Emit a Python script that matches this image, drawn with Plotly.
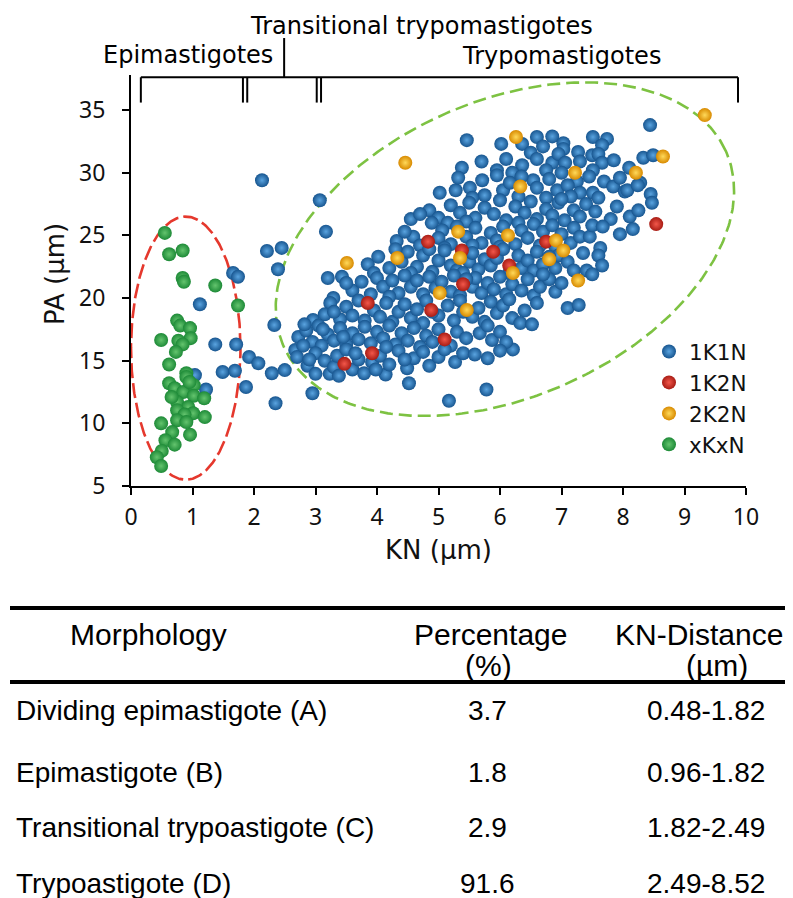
import numpy as np
import plotly.graph_objects as go

# ---------------- data (KN, PA in µm) ----------------
xkxn_points = [
    (0.55, 25.2), (0.62, 23.5), (0.84, 23.8), (0.84, 21.6), (0.86, 21.3), (1.37, 21.0),
    (1.74, 19.4), (0.75, 18.2), (0.80, 17.8), (0.96, 17.6), (0.97, 16.8), (0.49, 16.65),
    (0.77, 16.6), (0.84, 16.3), (0.73, 15.7), (0.62, 14.7), (0.90, 14.0), (0.90, 13.7),
    (0.62, 13.2), (0.71, 12.8), (0.85, 12.5), (1.02, 13.05), (1.02, 12.2), (1.19, 12.0),
    (0.75, 11.7), (0.93, 11.3), (0.75, 11.05), (1.01, 10.8), (1.20, 10.5), (0.87, 10.7),
    (0.75, 10.25), (0.90, 10.1), (0.49, 10.0), (0.67, 9.3), (0.96, 9.1), (0.56, 8.65),
    (0.71, 8.3), (0.50, 7.8), (0.42, 7.3), (0.49, 6.6), (0.66, 12.1), (0.95, 13.3),
]

k2n2_points = [
    (6.33, 28.9), (5.32, 25.3), (6.13, 25.0), (6.91, 24.6), (7.03, 23.8), (6.80, 23.1),
    (5.35, 23.2), (4.33, 23.2), (6.21, 22.0), (7.27, 21.4), (5.02, 20.4), (5.46, 19.05),
    (3.51, 22.8), (6.26, 32.85), (4.46, 30.8), (9.33, 34.6), (8.65, 31.3), (7.22, 30.0),
    (8.21, 30.0),
]

k1n2_points = [
    (3.47, 14.75), (3.92, 15.6), (3.85, 19.6), (4.88, 19.05), (5.10, 16.7), (5.40, 21.1),
    (4.83, 24.5), (5.38, 23.8), (5.89, 23.7), (6.15, 22.6), (6.75, 24.5), (8.54, 25.9),
]

k1n1_left = [
    (1.04, 13.85), (1.22, 12.7), (1.12, 19.5), (1.37, 16.3), (1.71, 16.3), (1.66, 22.0),
    (1.74, 21.7), (1.49, 14.1), (1.69, 14.2), (1.92, 15.3), (2.07, 14.8), (1.87, 12.9),
    (2.35, 11.6), (2.29, 14.0), (2.50, 14.25), (2.33, 17.85), (2.13, 29.4), (2.21, 23.75),
    (2.45, 24.0), (2.39, 22.3), (3.07, 27.8), (3.17, 25.3), (2.95, 12.4), (4.52, 13.2),
    (5.17, 11.8), (5.78, 12.7),
]

k1n1_top = [
    (5.46, 32.6), (6.02, 32.3), (6.36, 32.3), (6.60, 32.85), (6.85, 32.9), (6.70, 32.1),
    (7.03, 32.35), (7.03, 31.9), (7.51, 32.85), (7.74, 32.7), (7.66, 32.2), (8.44, 33.8),
    (5.38, 30.4), (5.70, 30.9), (5.95, 30.2), (6.10, 31.1), (6.36, 30.6), (6.50, 31.6),
    (6.60, 31.1), (6.85, 30.8), (6.95, 31.5), (7.06, 30.8), (7.27, 31.65), (7.30, 30.9),
    (7.50, 31.4), (7.60, 31.5), (7.66, 30.8), (7.51, 30.2), (7.85, 31.0), (8.33, 31.2),
    (8.49, 31.4), (8.10, 30.4), (6.20, 30.0), (6.75, 30.2),
]

k1n1_upper = [
    (5.02, 28.4), (5.28, 28.6), (5.51, 28.8), (5.71, 29.4), (5.75, 28.2), (6.05, 28.6),
    (6.16, 29.2), (6.54, 29.4), (6.60, 28.8), (6.93, 28.6), (7.00, 30.0), (7.25, 29.3),
    (7.30, 28.4), (7.51, 28.4), (7.69, 29.3), (7.84, 28.9), (8.03, 28.5), (8.28, 29.2),
    (5.32, 29.6), (5.95, 29.8), (6.35, 29.7), (6.80, 29.5), (7.10, 29.0), (7.45, 29.7),
    (7.95, 29.6), (8.07, 28.6), (8.24, 29.0), (5.55, 28.0), (6.30, 28.1), (6.75, 28.0),
    (7.15, 28.1), (7.60, 28.0), (8.45, 28.3),
    (4.55, 26.3), (4.85, 27.0), (5.00, 26.4), (5.20, 27.4), (5.35, 26.8), (5.50, 27.6),
    (5.60, 26.4), (5.75, 27.2), (5.90, 26.7), (6.00, 27.8), (6.10, 26.2), (6.25, 27.3),
    (6.40, 26.8), (6.50, 27.7), (6.60, 26.3), (6.75, 27.1), (6.85, 26.6), (6.95, 27.6),
    (7.05, 26.2), (7.20, 27.0), (7.30, 26.5), (7.40, 27.5), (7.55, 26.9), (8.47, 27.6),
    (8.11, 26.5), (7.80, 26.3), (7.90, 27.3), (8.25, 27.0), (5.45, 26.1), (6.30, 26.0),
    (7.00, 27.9), (5.15, 26.0), (4.70, 26.7), (4.89, 26.0),
]

k1n1_middle = [
    (4.32, 24.55), (4.59, 24.9), (5.06, 25.4), (4.70, 24.2), (5.00, 24.8), (5.20, 24.3),
    (5.45, 24.9), (5.60, 25.6), (5.70, 24.4), (5.85, 25.2), (5.95, 24.6), (6.05, 25.7),
    (6.25, 24.3), (6.35, 25.4), (6.45, 24.8), (6.55, 25.9), (6.65, 24.2), (6.70, 25.3),
    (6.85, 25.8), (7.00, 25.1), (7.15, 24.4), (7.20, 25.6), (7.30, 24.9), (7.46, 24.9),
    (7.50, 25.8), (7.67, 25.7), (7.63, 24.0), (7.95, 25.1), (8.16, 25.5), (5.30, 25.7),
    (4.45, 25.3), (6.00, 24.1), (5.55, 24.2), (6.90, 24.1), (5.10, 24.0),
    (3.85, 22.7), (4.02, 23.3), (4.20, 22.4), (4.40, 22.9), (4.50, 23.7), (4.65, 22.5),
    (4.75, 23.4), (4.90, 22.1), (5.00, 23.0), (5.10, 23.8), (5.20, 22.6), (5.30, 22.2),
    (5.50, 22.9), (5.55, 23.6), (5.65, 22.3), (5.75, 23.1), (5.85, 22.6), (5.95, 23.2),
    (6.05, 23.9), (6.30, 23.4), (6.35, 22.4), (6.45, 23.0), (6.55, 22.2), (6.60, 23.7),
    (6.70, 22.7), (6.90, 22.4), (6.95, 23.4), (7.10, 22.9), (7.20, 22.2), (7.41, 22.2),
    (7.60, 23.4), (7.66, 22.6), (7.35, 23.6), (4.30, 23.9), (4.85, 23.9), (5.40, 22.0),
    (6.15, 22.0), (6.80, 23.3), (4.55, 22.0), (3.95, 22.0),
]

k1n1_lower = [
    (3.20, 21.6), (3.43, 21.7), (3.60, 20.6), (3.75, 21.3), (3.90, 20.3), (4.00, 21.6),
    (4.10, 20.9), (4.25, 21.4), (4.35, 20.4), (4.45, 21.8), (4.55, 20.9), (4.65, 21.4),
    (4.75, 20.3), (4.85, 21.7), (4.95, 20.8), (5.05, 21.3), (5.20, 20.5), (5.25, 21.8),
    (5.35, 20.2), (5.55, 20.9), (5.60, 21.6), (5.70, 20.4), (5.80, 21.2), (5.90, 20.7),
    (6.00, 21.7), (6.10, 20.3), (6.20, 21.1), (6.35, 20.6), (6.45, 21.5), (6.55, 20.2),
    (6.65, 20.9), (6.80, 21.5), (6.90, 20.5), (7.00, 21.2), (3.29, 20.0), (3.50, 21.2),
    (4.20, 20.1), (5.45, 21.5), (6.70, 21.9), (7.50, 21.9),
    (2.96, 18.25), (3.24, 19.6), (3.15, 18.7), (3.40, 18.3), (3.50, 19.3), (3.60, 18.6),
    (3.70, 19.8), (3.80, 18.2), (3.95, 19.0), (4.05, 18.5), (4.15, 19.6), (4.25, 18.1),
    (4.35, 18.9), (4.45, 19.5), (4.55, 18.4), (4.65, 19.1), (4.75, 18.0), (4.80, 19.8),
    (5.00, 18.6), (5.15, 19.4), (5.25, 18.2), (5.35, 19.8), (5.55, 18.5), (5.65, 19.2),
    (5.75, 18.1), (5.85, 19.7), (5.95, 18.8), (6.05, 19.4), (6.20, 18.4), (6.33, 18.0),
    (6.52, 17.9), (6.40, 19.0), (6.60, 19.6), (7.10, 19.2), (7.28, 19.45), (3.30, 18.9),
    (4.90, 18.9), (5.40, 18.9), (6.15, 19.9),
]

k1n1_bottom = [
    (2.72, 16.9), (2.67, 15.85), (2.85, 17.4), (2.95, 16.5), (3.05, 17.8), (3.10, 16.2),
    (3.20, 17.1), (3.30, 16.6), (3.40, 17.6), (3.50, 16.3), (3.60, 17.2), (3.70, 16.7),
    (3.80, 17.7), (3.90, 16.4), (4.00, 17.3), (4.10, 16.8), (4.20, 17.8), (4.30, 16.3),
    (4.40, 17.2), (4.50, 16.6), (4.60, 17.6), (4.70, 16.1), (4.80, 17.0), (4.90, 16.5),
    (5.00, 17.5), (5.20, 16.2), (5.30, 17.3), (5.45, 16.8), (5.67, 17.2), (5.87, 16.65),
    (6.21, 15.9), (5.80, 17.8), (6.00, 17.3), (6.10, 16.5),
    (2.70, 15.3), (2.87, 14.6), (3.00, 13.95), (3.00, 15.6), (3.15, 15.0), (3.23, 13.95),
    (3.30, 14.5), (3.35, 15.4), (3.50, 15.9), (3.60, 14.3), (3.70, 15.1), (3.79, 14.0),
    (3.92, 14.9), (4.05, 15.4), (4.14, 13.9), (4.20, 14.7), (4.35, 15.8), (4.49, 14.4),
    (4.60, 15.2), (4.75, 15.7), (4.85, 14.6), (5.00, 15.3), (5.10, 15.9), (5.27, 14.9),
    (5.40, 15.6), (5.59, 15.5), (5.80, 15.2), (6.00, 15.8),
    (2.80, 16.2), (3.12, 17.5), (2.90, 15.1), (3.45, 16.9), (3.65, 15.6), (4.15, 16.1),
    (4.45, 15.1), (3.98, 14.3), (3.38, 13.8), (2.82, 17.9),
]

k1n1_points = k1n1_left + k1n1_top + k1n1_upper + k1n1_middle + k1n1_lower + k1n1_bottom

# region brackets (KN positions) and labels
bracket_ticks = [0.16, 1.82, 1.89, 3.02, 3.09, 9.87]
transition_tick = 2.49
bracket_labels = ["Epimastigotes", "Transitional trypomastigotes", "Trypomastigotes"]
bracket_label_x = [0.92, 4.72, 7.0]

# ellipses (centre, axis vectors in data units)
red_ellipse = dict(cx=0.89, cy=16.0, ux=0.89, uy=0.0, vx=0.0, vy=10.5)
green_ellipse = dict(cx=6.08, cy=23.9, ux=3.59, uy=7.85, vx=-1.0, vy=10.75)

# table
header_line1 = ["Morphology", "Percentage", "KN-Distance"]
header_line2 = ["", "(%)", "(µm)"]
morphology = ["Dividing epimastigote (A)", "Epimastigote (B)",
              "Transitional trypoastigote (C)", "Trypoastigote (D)"]
percentage = ["3.7", "1.8", "2.9", "91.6"]
kn_distance = ["0.48-1.82", "0.96-1.82", "1.82-2.49", "2.49-8.52"]

# ---------------- layout geometry ----------------
OFF = 8                      # page body margin
W, H = 793 - OFF, 898 - OFF
L, T, PW, PH = 131 - OFF, 75 - OFF, 615, 411
Y0, Y1 = 5, 37.8


def px_x(px):
    return (px - OFF - L) / PW


def px_y(py):
    return (T + PH - (py - OFF)) / PH


def dy_paper(v):
    return (v - Y0) / (Y1 - Y0)


def ellipse_xy(e):
    t = np.linspace(0, 2 * np.pi, 400)
    x = e["cx"] + e["ux"] * np.cos(t) + e["vx"] * np.sin(t)
    y = e["cy"] + e["uy"] * np.cos(t) + e["vy"] * np.sin(t)
    return x, y


fig = go.Figure()

ex, ey = ellipse_xy(red_ellipse)
fig.add_trace(go.Scatter(x=ex, y=ey, mode="lines", showlegend=False, hoverinfo="skip",
                         line=dict(color="#e5382d", width=2.6, dash="15px,5px")))
ex, ey = ellipse_xy(green_ellipse)
fig.add_trace(go.Scatter(x=ex, y=ey, mode="lines", showlegend=False, hoverinfo="skip",
                         line=dict(color="#7dc242", width=2.6, dash="13px,6px")))

series = [
    ("1K1N", k1n1_points, "#17558f", "#5aa4e0"),
    ("1K2N", k1n2_points, "#a81c14", "#f2574a"),
    ("2K2N", k2n2_points, "#d88a00", "#ffd95a"),
    ("xKxN", xkxn_points, "#1d8a37", "#64c46e"),
]
for name, pts, edge, centre in series:
    fig.add_trace(go.Scatter(
        x=[p[0] for p in pts], y=[p[1] for p in pts], mode="markers", name=name,
        marker=dict(size=14, color=edge, line=dict(width=0),
                    gradient=dict(type="radial", color=centre)),
    ))

axis_common = dict(showline=True, linecolor="black", linewidth=2, ticks="outside",
                   ticklen=7, tickwidth=2, tickcolor="black", showgrid=False,
                   zeroline=False, tickfont=dict(family="Noto Sans", size=23, color="#111"))

fig.update_xaxes(range=[0, 10], dtick=1, ticklabelstandoff=2, **axis_common)
fig.update_yaxes(range=[Y0, Y1], tickvals=[5, 10, 15, 20, 25, 30, 35],
                 ticklabelstandoff=12, **axis_common)

shapes = []
line_style = dict(color="black", width=2)
yb = dy_paper(37.62)
shapes.append(dict(type="line", xref="x", yref="paper", x0=bracket_ticks[0], x1=bracket_ticks[-1],
                   y0=yb, y1=yb, line=line_style))
for xt in bracket_ticks:
    shapes.append(dict(type="line", xref="x", yref="paper", x0=xt, x1=xt,
                       y0=yb, y1=dy_paper(35.6), line=line_style))
shapes.append(dict(type="line", xref="x", yref="paper", x0=transition_tick, x1=transition_tick,
                   y0=yb, y1=dy_paper(40.75), line=line_style))
for py in (608, 682):
    shapes.append(dict(type="line", xref="paper", yref="paper", x0=px_x(10), x1=px_x(800),
                       y0=px_y(py), y1=px_y(py), line=dict(color="black", width=4)))

annotations = []
label_font = dict(family="DejaVu Sans", size=24, color="black")
for text, lx, ly in zip(bracket_labels, bracket_label_x, (55, 26, 56)):
    annotations.append(dict(text=text, x=lx, xref="x", y=px_y(ly), yref="paper",
                            showarrow=False, font=label_font, xanchor="center", yanchor="middle"))

title_font = dict(family="DejaVu Sans", size=26, color="#111")
annotations.append(dict(text="KN (µm)", x=5, xref="x", y=px_y(550), yref="paper",
                        showarrow=False, font=title_font, xanchor="center", yanchor="middle"))
annotations.append(dict(text="PA (µm)", x=px_x(55), xref="paper", y=px_y(274), yref="paper",
                        showarrow=False, font=title_font, textangle=-90,
                        xanchor="center", yanchor="middle"))

head_font = dict(family="Liberation Sans", size=30, color="black")
row_font = dict(family="Liberation Sans", size=28, color="black")
head_x = [148, 490, 699]
head2_x = [148, 488, 717]
for t1, t2, hx, hx2 in zip(header_line1, header_line2, head_x, head2_x):
    annotations.append(dict(text=t1, x=px_x(hx), y=px_y(634), xref="paper", yref="paper",
                            showarrow=False, font=head_font, xanchor="center", yanchor="middle"))
    if t2:
        annotations.append(dict(text=t2, x=px_x(hx2), y=px_y(665), xref="paper", yref="paper",
                                showarrow=False, font=head_font, xanchor="center",
                                yanchor="middle"))
row_y = [710, 772, 827, 883]
for m, p, k, ry in zip(morphology, percentage, kn_distance, row_y):
    annotations.append(dict(text=m, x=px_x(14), y=px_y(ry), xref="paper", yref="paper",
                            showarrow=False, font=row_font, xanchor="left", yanchor="middle"))
    annotations.append(dict(text=p, x=px_x(487), y=px_y(ry), xref="paper", yref="paper",
                            showarrow=False, font=row_font, xanchor="center", yanchor="middle"))
    annotations.append(dict(text=k, x=px_x(706), y=px_y(ry), xref="paper", yref="paper",
                            showarrow=False, font=row_font, xanchor="center", yanchor="middle"))

fig.update_layout(
    width=W, height=H, margin=dict(l=L, r=W - L - PW, t=T, b=H - T - PH, autoexpand=False),
    paper_bgcolor="white", plot_bgcolor="white", shapes=shapes, annotations=annotations,
    legend=dict(x=px_x(649), y=px_y(331), xanchor="left", yanchor="top",
                font=dict(family="DejaVu Sans", size=21.5, color="#111"),
                bgcolor="rgba(0,0,0,0)", tracegroupgap=0, itemsizing="trace"),
)

fig.write_html("out.html")
